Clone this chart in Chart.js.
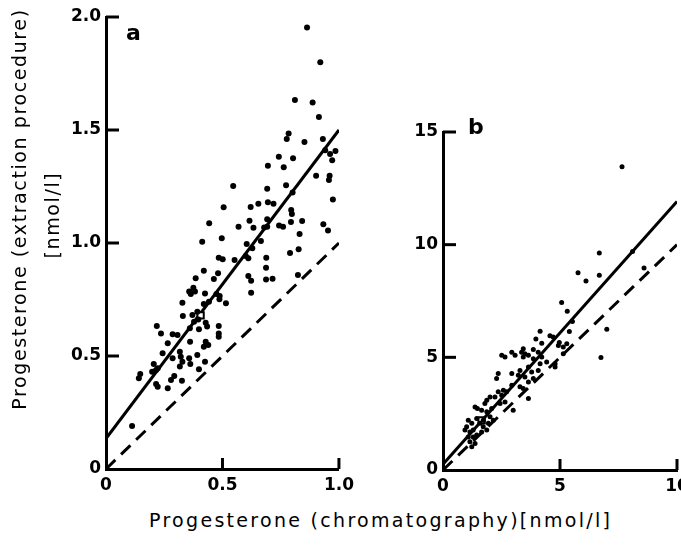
<!DOCTYPE html>
<html>
<head>
<meta charset="utf-8">
<script src="https://cdn.jsdelivr.net/npm/chart.js@4.4.0/dist/chart.umd.min.js"></script>
<style>
  html, body { margin: 0; padding: 0; background: #fff; overflow: hidden; width: 681px; height: 552px; }
  #chartA { position: absolute; left: 0; top: 0; }
  #chartB { position: absolute; left: 380px; top: 0; }
  .txt { position: absolute; font-family: 'DejaVu Sans', sans-serif; color: #000; white-space: nowrap; }
  .rot { text-align: center; width: 440px; transform: rotate(-90deg); }
</style>
</head>
<body>
<canvas id="chartA" width="360" height="500"></canvas>
<canvas id="chartB" width="320" height="500"></canvas>

<div class="txt rot" style="left:-201px; top:198px; font-size:19px; letter-spacing:1.6px;">Progesterone (extraction procedure)</div>
<div class="txt rot" style="left:-168px; top:204px; font-size:19px; letter-spacing:1.6px;">[nmol/l]</div>
<div class="txt" style="left:149px; top:509px; font-size:19px; letter-spacing:2.3px;">Progesterone (chromatography)[nmol/l]</div>
<div class="txt" style="left:126px; top:20px; font-size:22px; font-weight:bold;">a</div>
<div class="txt" style="left:468px; top:114px; font-size:22px; font-weight:bold;">b</div>

<script>
// panel a : extraction vs chromatography, low range
var aX = [0.863, 0.92, 0.811, 0.887, 0.914, 0.784, 0.776, 0.852, 0.931, 0.941, 0.962, 0.985, 0.971, 0.742, 0.803,
          0.695, 0.763, 0.902, 0.96, 0.957, 0.546, 0.692, 0.773, 0.801, 0.974, 0.505, 0.621, 0.654, 0.695, 0.719,
          0.795, 0.798, 0.443, 0.569, 0.616, 0.633, 0.692, 0.679, 0.692, 0.743, 0.76, 0.794, 0.842, 0.933, 0.953,
          0.413, 0.497, 0.604, 0.628, 0.665, 0.831, 0.827, 0.79, 0.484, 0.501, 0.552, 0.6, 0.611, 0.688,
          0.42, 0.481, 0.385, 0.463, 0.611, 0.623, 0.687, 0.687, 0.715, 0.824, 0.375, 0.382, 0.364, 0.425,
          0.474, 0.488, 0.623, 0.357, 0.515, 0.487, 0.328, 0.42, 0.442, 0.33, 0.371, 0.392, 0.378, 0.396, 0.428,
          0.434, 0.484, 0.484, 0.484, 0.218, 0.236, 0.286, 0.307, 0.36, 0.399, 0.265, 0.361, 0.428, 0.439, 0.42,
          0.317, 0.243, 0.286, 0.321, 0.328, 0.317, 0.357, 0.362, 0.392, 0.425, 0.205, 0.222, 0.198, 0.215,
          0.399, 0.147, 0.141, 0.293, 0.279, 0.326, 0.215, 0.222, 0.265, 0.112];
var aY = [1.953, 1.80, 1.633, 1.622, 1.557, 1.484, 1.46, 1.447, 1.46, 1.41, 1.394, 1.407, 1.366, 1.382, 1.375,
          1.342, 1.335, 1.298, 1.298, 1.279, 1.252, 1.24, 1.255, 1.223, 1.193, 1.158, 1.159, 1.174, 1.18, 1.174,
          1.146, 1.128, 1.087, 1.072, 1.099, 1.068, 1.105, 1.069, 1.072, 1.077, 1.072, 1.093, 1.097, 1.083, 1.055,
          1.006, 1.021, 0.996, 0.977, 1.009, 1.04, 0.972, 0.956, 0.935, 0.928, 0.925, 0.942, 0.932, 0.935,
          0.877, 0.866, 0.844, 0.841, 0.854, 0.833, 0.891, 0.839, 0.842, 0.858, 0.802, 0.785, 0.774, 0.777,
          0.774, 0.765, 0.78, 0.785, 0.733, 0.751, 0.736, 0.73, 0.74, 0.677, 0.681, 0.696, 0.652, 0.662, 0.647,
          0.63, 0.633, 0.6, 0.585, 0.633, 0.6, 0.596, 0.593, 0.623, 0.618, 0.556, 0.563, 0.563, 0.549, 0.541,
          0.519, 0.512, 0.49, 0.497, 0.475, 0.453, 0.49, 0.465, 0.504, 0.475, 0.465, 0.446, 0.43, 0.438,
          0.441, 0.42, 0.401, 0.411, 0.394, 0.391, 0.376, 0.364, 0.357, 0.19];
var aMean = [0.406, 0.68];
var aFitX = [0, 1.0];
var aFitY = [0.135, 1.5];
var aIdX = [0, 1.0];
var aIdY = [0, 1.0];
var aXTicks = [0, 0.5, 1.0];
var aXLabels = ['0', '0.5', '1.0'];
var aYTicks = [0, 0.5, 1.0, 1.5, 2.0];
var aYLabels = ['0', '0.5', '1.0', '1.5', '2.0'];

// panel b : wider range
var bX = [7.65, 6.68, 8.1, 5.77, 6.11, 6.68, 8.59, 5.07, 5.31, 5.53, 5.4, 7.0, 4.15, 3.97, 4.22, 4.57, 4.71, 4.97,
          5.14, 3.43, 3.86, 6.75, 4.07, 4.22, 4.93, 5.29, 5.14, 4.79, 4.79, 4.43, 2.51, 2.65, 2.94, 3.08, 3.36,
          3.43, 3.5, 3.65, 3.86, 4.15, 4.07, 3.65, 3.79, 2.36, 2.29, 2.94, 3.29, 3.22, 3.5, 3.86, 3.65, 3.29,
          3.43, 2.94, 2.72, 2.58, 2.36, 2.51, 2.22, 2.01, 1.87, 1.79, 3.65, 3.0, 1.37, 1.47, 1.65, 1.87, 2.08,
          2.01, 1.72, 2.15, 1.44, 1.58, 1.08, 1.23, 1.01, 0.94, 1.15, 1.29, 1.29, 1.08, 1.44, 1.15, 1.23, 1.37,
          1.72, 1.65, 1.87, 1.94, 2.44, 2.65];
var bY = [13.46, 9.63, 9.7, 8.75, 8.39, 8.64, 8.97, 7.43, 7.04, 6.59, 6.15, 6.25, 6.16, 5.81, 5.63, 5.96, 5.9, 5.66,
          5.46, 5.38, 5.35, 4.99, 5.23, 5.01, 5.53, 5.6, 5.16, 4.72, 4.57, 4.79, 5.09, 5.01, 5.23, 5.09, 5.23,
          5.01, 5.16, 5.09, 4.94, 4.72, 4.42, 4.57, 4.35, 4.28, 4.06, 4.28, 4.42, 4.2, 4.13, 4.06, 3.91, 3.69,
          3.62, 3.76, 3.47, 3.54, 3.47, 3.32, 3.24, 3.24, 3.1, 2.95, 3.17, 2.65, 2.8, 2.73, 2.65, 2.58, 2.73,
          2.36, 2.21, 2.21, 2.29, 2.07, 2.21, 2.07, 1.92, 1.77, 1.69, 1.77, 1.47, 1.47, 1.55, 1.25, 1.03, 1.18,
          1.92, 1.69, 1.77, 2.07, 2.95, 3.02];
var bMean = [1.65, 2.2];
var bFitX = [0, 10];
var bFitY = [0.25, 11.92];
var bIdX = [0, 10];
var bIdY = [0, 10];
var bXTicks = [0, 5, 10];
var bXLabels = ['0', '5', '10'];
var bYTicks = [0, 5, 10, 15];
var bYLabels = ['0', '5', '10', '15'];

function pts(xs, ys) {
    var out = [];
    for (var i = 0; i < xs.length; i++) out.push({ x: xs[i], y: ys[i] });
    return out;
}

// short tick marks pointing into the plot, placed with the scales
var inwardTicks = {
    id: 'inwardTicks',
    afterDraw: function (chart) {
        var ctx = chart.ctx, xs = chart.scales.x, ys = chart.scales.y;
        var area = chart.chartArea;
        ctx.save();
        ctx.strokeStyle = '#000';
        ctx.lineWidth = 3;
        ys.ticks.forEach(function (t) {
            if (t.value === 0) return;
            var py = ys.getPixelForValue(t.value);
            ctx.beginPath(); ctx.moveTo(area.left, py); ctx.lineTo(area.left + 13, py); ctx.stroke();
        });
        xs.ticks.forEach(function (t) {
            if (t.value === 0) return;
            var px = xs.getPixelForValue(t.value);
            ctx.beginPath(); ctx.moveTo(px, area.bottom); ctx.lineTo(px, area.bottom - 11); ctx.stroke();
        });
        ctx.restore();
    }
};

function panel(id, o) {
    var tickFont = { family: 'DejaVu Sans', size: 17, weight: 'bold' };
    return new Chart(document.getElementById(id).getContext('2d'), {
        type: 'scatter',
        data: {
            datasets: [{
                label: 'samples',
                data: pts(o.x, o.y),
                backgroundColor: '#000',
                borderWidth: 0,
                pointRadius: o.r
            },
            {
                label: 'mean',
                data: [{ x: o.mean[0], y: o.mean[1] }],
                pointStyle: 'rect',
                pointRadius: 4.5,
                backgroundColor: '#fff',
                borderColor: '#000',
                borderWidth: 2
            },
            {
                type: 'line',
                label: 'regression',
                data: pts(o.fitX, o.fitY),
                borderColor: '#000',
                borderWidth: 3,
                pointRadius: 0,
                fill: false
            },
            {
                type: 'line',
                label: 'identity',
                data: pts(o.idX, o.idY),
                borderColor: '#000',
                borderWidth: 3,
                borderDash: [13, 8],
                pointRadius: 0,
                fill: false
            }]
        },
        options: {
            responsive: false,
            animation: false,
            layout: { padding: o.pad },
            plugins: { legend: { display: false }, tooltip: { enabled: false } },
            scales: {
                x: {
                    type: 'linear', min: o.xTicks[0], max: o.xTicks[o.xTicks.length - 1],
                    afterBuildTicks: function (s) { s.ticks = o.xTicks.map(function (v) { return { value: v }; }); },
                    afterFit: function (s) { s.height = o.xh; },
                    grid: { display: false, drawTicks: false },
                    border: { display: true, color: '#000', width: 3 },
                    ticks: {
                        color: '#000', font: tickFont, padding: 6, maxRotation: 0,
                        callback: function (v) { return o.xLabels[o.xTicks.indexOf(v)]; }
                    }
                },
                y: {
                    type: 'linear', min: o.yTicks[0], max: o.yTicks[o.yTicks.length - 1],
                    afterBuildTicks: function (s) { s.ticks = o.yTicks.map(function (v) { return { value: v }; }); },
                    afterFit: function (s) { s.width = o.yw; },
                    grid: { display: false, drawTicks: false },
                    border: { display: true, color: '#000', width: 3 },
                    ticks: {
                        color: '#000', font: tickFont, padding: 5,
                        callback: function (v) { return o.yLabels[o.yTicks.indexOf(v)]; }
                    }
                }
            }
        },
        plugins: [inwardTicks]
    });
}

panel('chartA', {
    x: aX, y: aY, r: 3, mean: aMean, fitX: aFitX, fitY: aFitY, idX: aIdX, idY: aIdY,
    xTicks: aXTicks, xLabels: aXLabels, yTicks: aYTicks, yLabels: aYLabels,
    pad: { left: 0, right: 19, top: 17, bottom: 0 }, yw: 106, xh: 31
});
panel('chartB', {
    x: bX, y: bY, r: 2.5, mean: bMean, fitX: bFitX, fitY: bFitY, idX: bIdX, idY: bIdY,
    xTicks: bXTicks, xLabels: bXLabels, yTicks: bYTicks, yLabels: bYLabels,
    pad: { left: 0, right: 23, top: 132, bottom: 0 }, yw: 63, xh: 30
});
</script>
</body>
</html>
